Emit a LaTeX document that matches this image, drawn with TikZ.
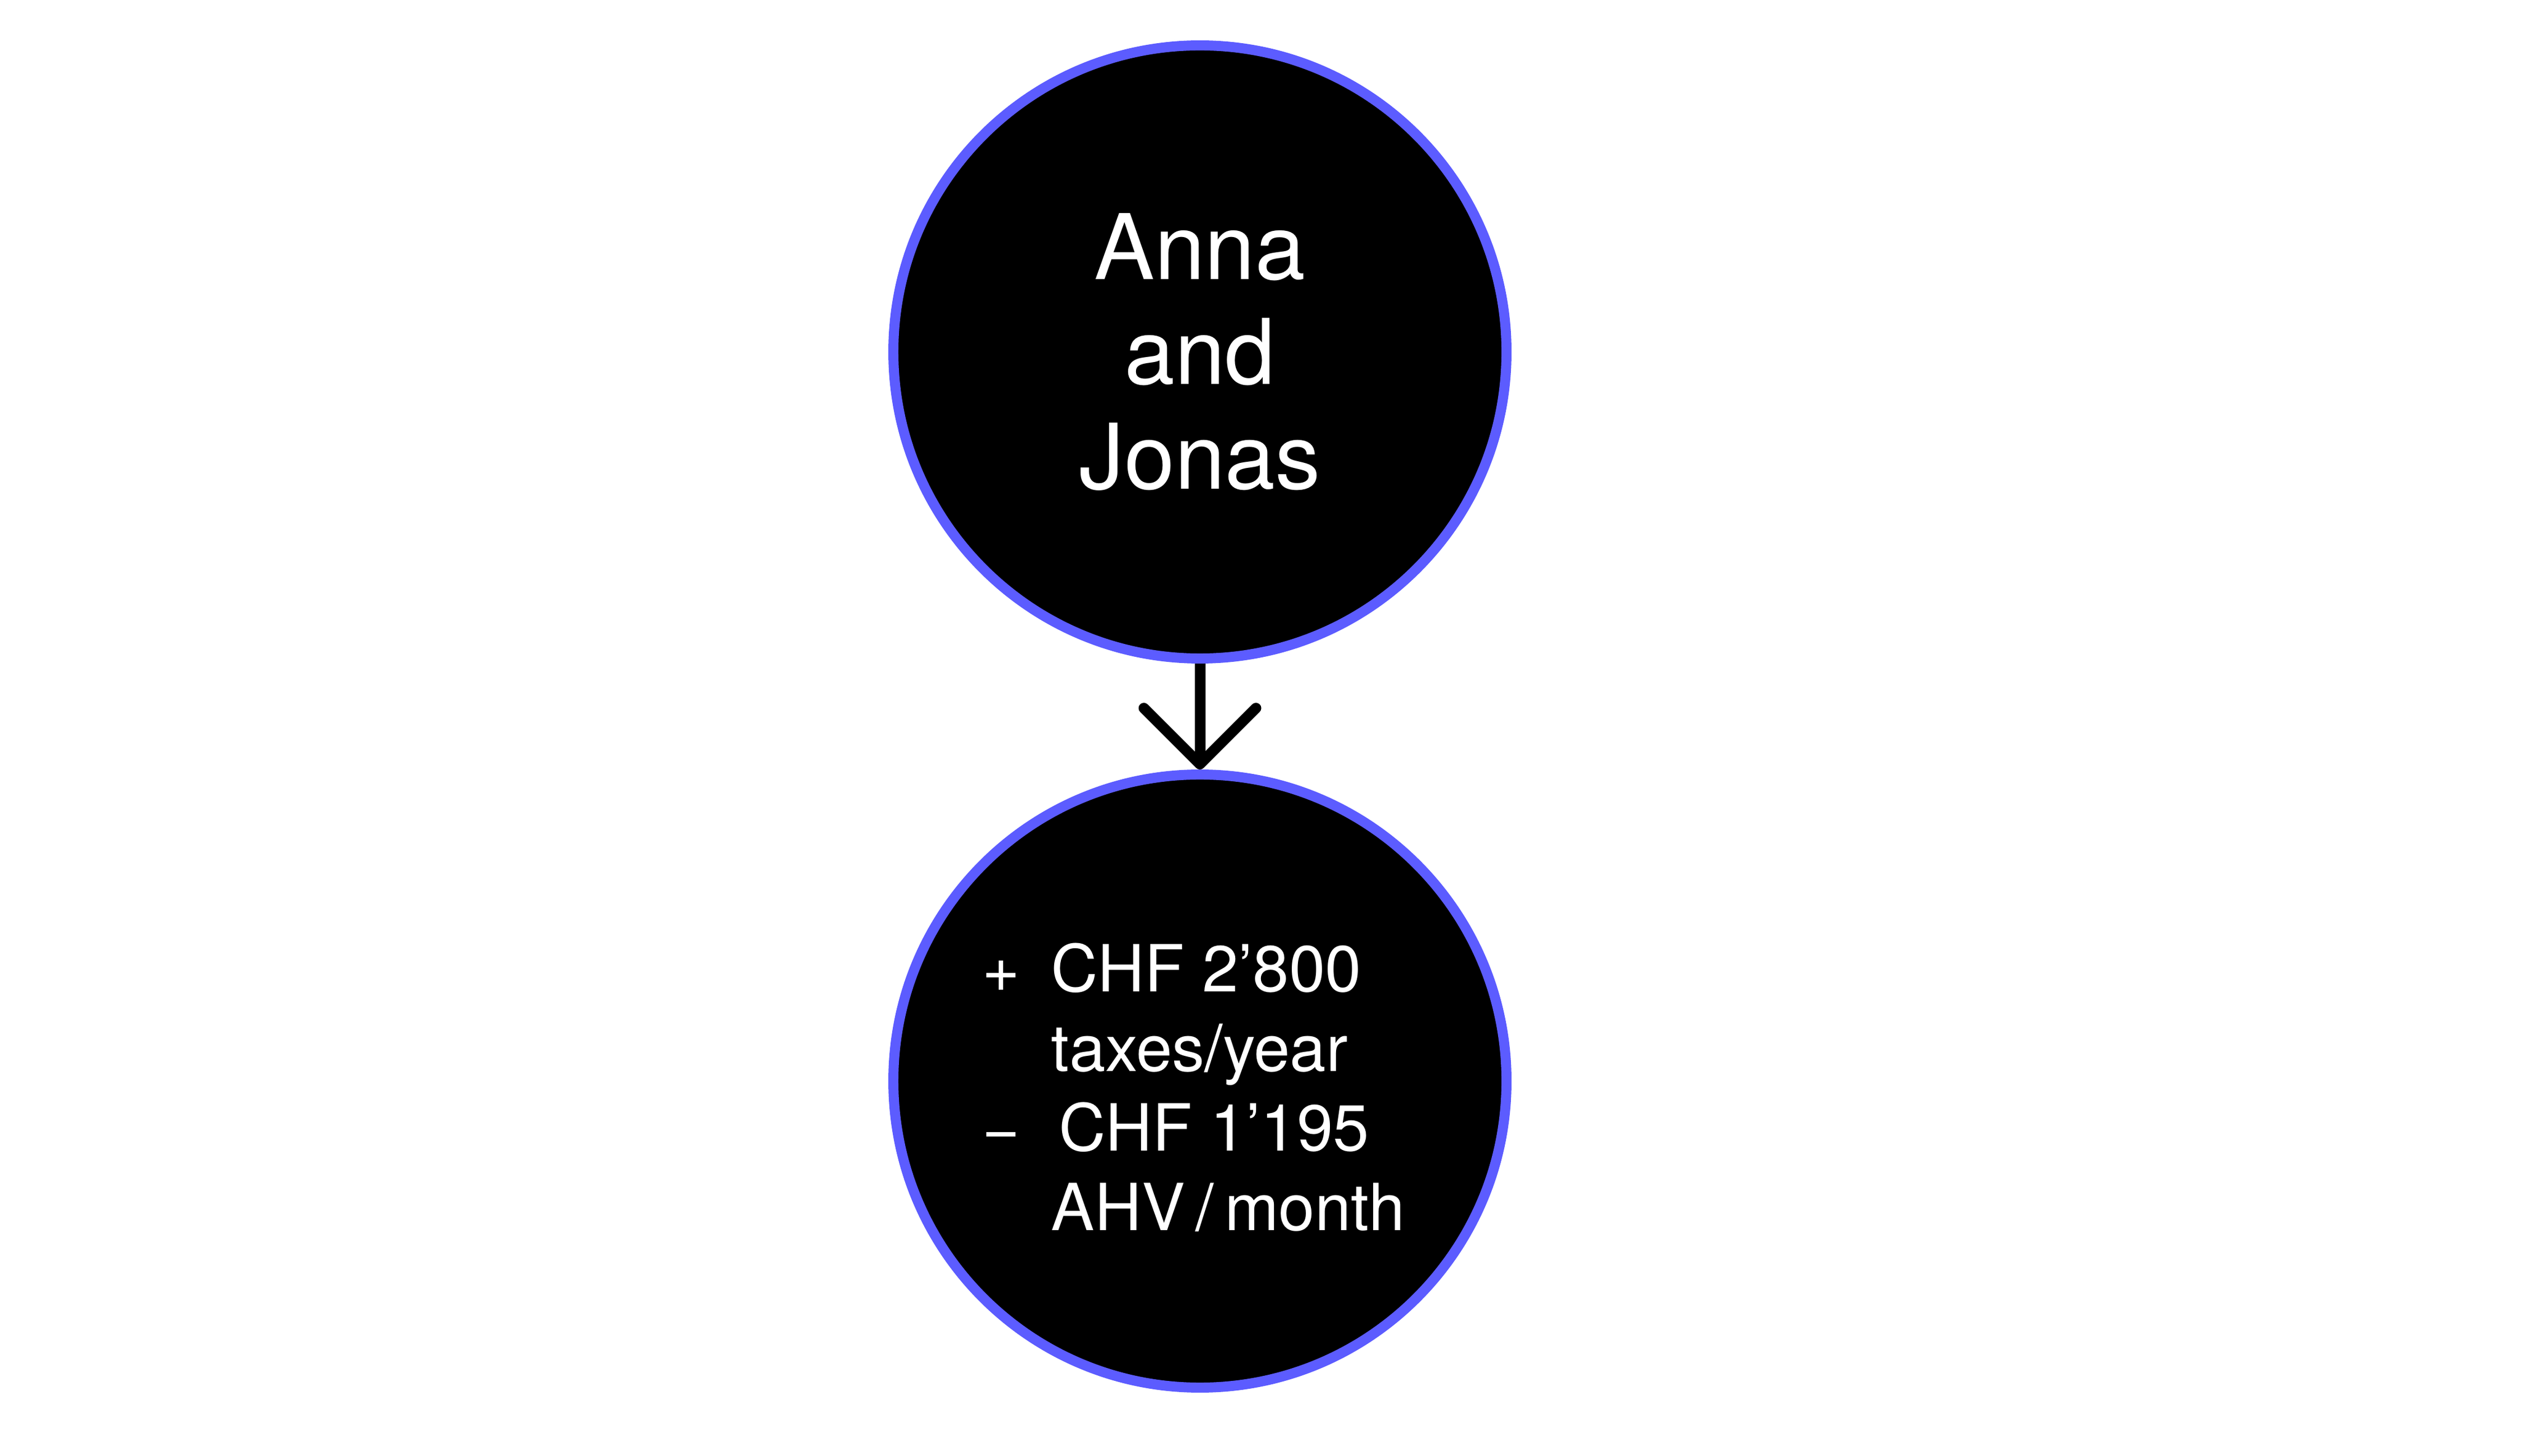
\documentclass[tikz,border=0pt]{standalone}
\usepackage{fontspec}
\setmainfont{TeX Gyre Heros}
\usetikzlibrary{arrows.meta}
\definecolor{ringblue}{RGB}{92,92,255}

\begin{document}
\begin{tikzpicture}[auto,
    bubble/.style ={circle, draw=ringblue, fill=black, line width=5.1pt, inner sep = 0pt, minimum size=10.94cm},
    caption/.style ={text=white, inner sep = 0pt},
    flow/.style ={line width=5.4pt, -{Straight Barb[length=10mm, width=20mm, round]}}]
   \useasboundingbox (0,0) rectangle (45,25.97);
   \node[bubble, caption, align=center, font=\fontsize{46}{53.2}\selectfont] (couple) at (21.41,19.69) {Anna\\and\\Jonas};
   \node[bubble] (money) at (21.41,6.68) {};
   \node[caption, font=\fontsize{33}{40.4}\selectfont] (moneytext) at (21.30,6.43)
     {\begin{tabular}{@{}p{1.23cm}@{}l@{}}
      + & CHF 2’800\\
        & taxes/year\\
      − & \hspace{0.14cm}CHF 1’195\\
        & AHV\,/\,month
      \end{tabular}};

   \draw[flow] (couple) to  (money);
\end{tikzpicture}
\end{document}
